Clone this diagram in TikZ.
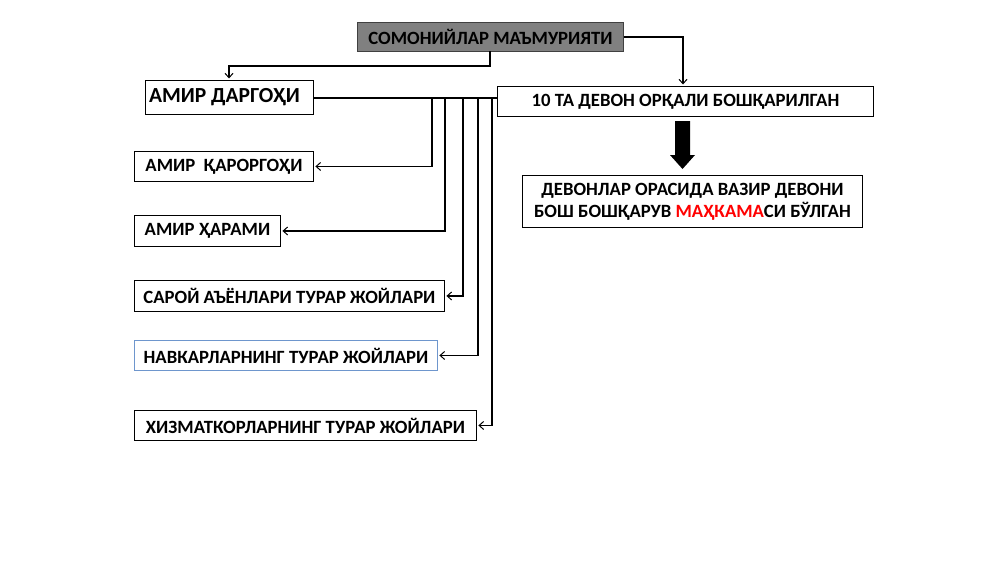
\documentclass[tikz,border=0pt]{standalone}
\usepackage{fontspec}
\setmainfont{Carlito}
\usetikzlibrary{arrows.meta}
\begin{document}
\begin{tikzpicture}[x=1pt,y=-1pt,
  box/.style={draw=black, line width=0.9pt, fill=white, anchor=north west, inner sep=0pt,
    font=\fontsize{18.7}{22}\selectfont\bfseries, align=center},
  conn/.style={line width=1.1pt, draw=black},
  arr/.style={conn, -{Straight Barb[length=4.5pt,width=8pt,line width=1pt]}, shorten >=1.5pt}]
\useasboundingbox (0,0) rectangle (1000,562);
\fill[white] (0,0) rectangle (1000,562);

\node[box, fill=black!50, draw=black!75, minimum width=266pt, minimum height=29pt] (top) at (357,22) {СОМОНИЙЛАР МАЪМУРИЯТИ};
\node[box, minimum width=168pt, minimum height=34pt, font=\fontsize{21.5}{24}\selectfont\bfseries] (dargohi) at (145,80) {АМИР ДАРГОҲИ\hspace*{10pt}};
\node[box, minimum width=376pt, minimum height=30pt] (devon) at (497,86) {10 ТА ДЕВОН ОРҚАЛИ БОШҚАРИЛГАН};
\node[box, minimum width=340pt, minimum height=52pt] (vazir) at (522,175) {ДЕВОНЛАР ОРАСИДА ВАЗИР ДЕВОНИ\\БОШ БОШҚАРУВ \textcolor{red}{МАҲКАМА}СИ БЎЛГАН};

\node[box, minimum width=179pt, minimum height=30pt] (qaror) at (134,151) {АМИР\ \ ҚАРОРГОҲИ};
\node[box, minimum width=146pt, minimum height=31pt] (haram) at (134,215) {АМИР ҲАРАМИ};
\node[box, minimum width=310pt, minimum height=31pt] (saroy) at (134,280) {САРОЙ АЪЁНЛАРИ ТУРАР ЖОЙЛАРИ};
\node[box, draw={rgb,255:red,110;green,150;blue,205}, minimum width=303pt, minimum height=30pt] (navkar) at (134,340) {НАВКАРЛАРНИНГ ТУРАР ЖОЙЛАРИ};
\node[box, minimum width=342pt, minimum height=30pt] (xizmat) at (134,410) {ХИЗМАТКОРЛАРНИНГ ТУРАР ЖОЙЛАРИ};

% top connectors
\coordinate (tb) at (490,51);
\draw[arr] (tb) -- (490,66) -| (dargohi.north -| 229,0);
\draw[arr] (top.east) -| (devon.north -| 683,0);

% main horizontal
\coordinate (h) at (313,98);
\draw[conn] (h) -- (h -| devon.west);

\coordinate (b1) at (432,98);
\coordinate (b2) at (445,98);
\coordinate (b3) at (463,98);
\coordinate (b4) at (478,98);
\coordinate (b5) at (492,98);
\draw[arr] (b1) |- (qaror.east);
\draw[arr] (b2) |- (haram.east);
\draw[arr] (b3) |- (saroy.east);
\draw[arr] (b4) |- (navkar.east);
\draw[arr] (b5) |- (xizmat.east);

% block arrow
\fill[black] (675,121) -- (690,121) -- (690,155) -- (695,155) -- (682.5,169) -- (670,155) -- (675,155) -- cycle;
\end{tikzpicture}
\end{document}
